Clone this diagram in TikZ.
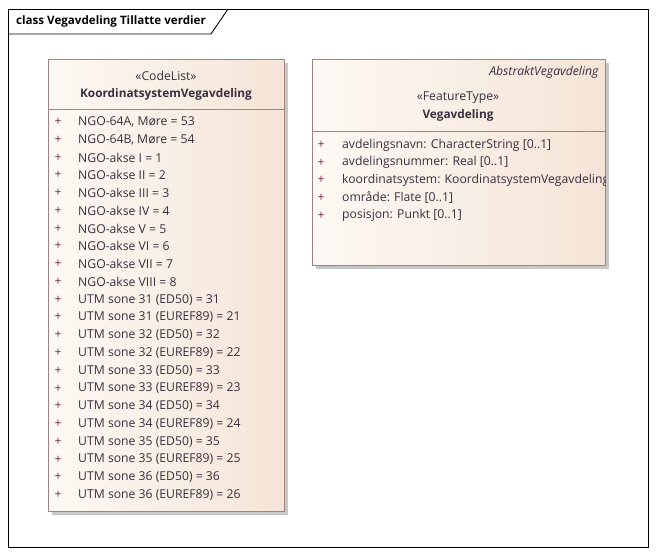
\documentclass[tikz,border=0pt]{standalone}
\usepackage{fontspec}
\setmainfont{Open Sans}
\usetikzlibrary{positioning,shadows,calc}

\definecolor{kant}{HTML}{A08484}
\definecolor{lys}{HTML}{FDF9F4}
\definecolor{fersken}{HTML}{F5E4D7}
\definecolor{tekst}{HTML}{3A2E3E}
\definecolor{pluss}{HTML}{7A2A3C}

\begin{document}
\begin{tikzpicture}[x=1pt,y=-1pt,
    klasse/.style={draw=kant,left color=lys,right color=fersken,anchor=north west,
      inner sep=0pt,drop shadow={shadow xshift=4pt,shadow yshift=-4pt,fill=black!22,opacity=1}},
    skille/.style={draw=kant},
    stereo/.style={font=\fontsize{12.2}{14}\selectfont,text=tekst},
    navn/.style={font=\fontsize{11.8}{14}\selectfont\bfseries,text=tekst},
    pl/.style={font=\fontsize{12.2}{14}\selectfont,text=pluss,inner sep=0pt},
    attr/.style={font=\fontsize{12.2}{14}\selectfont,text=tekst,anchor=west,inner sep=0pt}]
  \useasboundingbox (0,0) rectangle (656,555);

  % diagram frame with title tab
  \coordinate (ramme) at (8,9);
  \draw[line width=0.9pt] (ramme) rectangle (648,547);
  \coordinate (fane) at (8,34);
  \draw[line width=0.9pt] (fane) -- (211,34) -- (228,9);
  \node (tittel) [anchor=west,inner sep=0pt,font=\fontsize{11.6}{14}\selectfont\bfseries] at (16,21)
    {class Vegavdeling Tillatte verdier};

  % code list
  \node (kode) [klasse,minimum width=236,minimum height=452] at (48,59) {};
  \node (kodestereo) [stereo] at (166,76) {«CodeList»};
  \node (kodenavn) [navn] at (166,94) {KoordinatsystemVegavdeling};
  \coordinate (kodeskille) at (48,109);
  \draw[skille] (kodeskille) -- (kodeskille -| kode.east);
  \foreach \verdi [count=\i] in {{NGO-64A, Møre = 53},{NGO-64B, Møre = 54},NGO-akse I = 1,
      NGO-akse II = 2,NGO-akse III = 3,NGO-akse IV = 4,NGO-akse V = 5,NGO-akse VI = 6,
      NGO-akse VII = 7,NGO-akse VIII = 8,UTM sone 31 (ED50) = 31,UTM sone 31 (EUREF89) = 21,
      UTM sone 32 (ED50) = 32,UTM sone 32 (EUREF89) = 22,UTM sone 33 (ED50) = 33,
      UTM sone 33 (EUREF89) = 23,UTM sone 34 (ED50) = 34,UTM sone 34 (EUREF89) = 24,
      UTM sone 35 (ED50) = 35,UTM sone 35 (EUREF89) = 25,UTM sone 36 (ED50) = 36,
      UTM sone 36 (EUREF89) = 26}
  {
    \node (kodep\i) [pl] at ({58},{122+17.76*(\i-1)}) {+};
    \node (kodea\i) [attr] at ({78},{122+17.76*(\i-1)}) {\verdi};
  }

  % feature type
  \node (veg) [klasse,minimum width=293,minimum height=206] at (312,59) {};
  \node (vegabstrakt) [stereo,anchor=east,font=\fontsize{12.2}{14}\selectfont\itshape] at (602,72) {AbstraktVegavdeling};
  \node (vegstereo) [stereo] at (458,98) {«FeatureType»};
  \node (vegnavn) [navn] at (458,115) {Vegavdeling};
  \coordinate (vegskille) at (312,131);
  \draw[skille] (vegskille) -- (vegskille -| veg.east);
  \begin{scope}
    \clip (veg.north west) rectangle (veg.south east);
    \foreach \egenskap [count=\i] in {avdelingsnavn: CharacterString [0..1],
        avdelingsnummer: Real [0..1],koordinatsystem: KoordinatsystemVegavdeling,
        område: Flate [0..1],posisjon: Punkt [0..1]}
    {
      \node (vegp\i) [pl] at ({321},{145+17.6*(\i-1)}) {+};
      \node (vega\i) [attr] at ({342},{145+17.6*(\i-1)}) {\egenskap};
    }
  \end{scope}
\end{tikzpicture}
\end{document}
